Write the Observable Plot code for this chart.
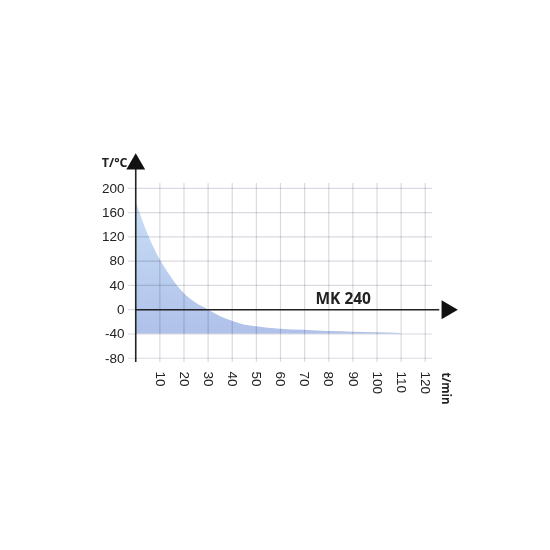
<!DOCTYPE html>
<html>
<head>
<meta charset="utf-8">
<script src="https://cdn.jsdelivr.net/npm/d3@7"></script>
<script src="https://cdn.jsdelivr.net/npm/@observablehq/plot@0.6"></script>
<style>
  html, body { margin: 0; padding: 0; background: #fff; }
  #chart { width: 550px; height: 550px; }
</style>
</head>
<body>
<div id="chart"></div>
<script>
// Data
const times = [0, 5, 10, 15, 20, 25, 30, 35, 40, 45, 50, 60, 70, 80, 90, 100, 110];
const temps = [180, 125, 83, 52, 27, 11, 0, -11, -19, -25, -28, -32, -34, -36, -37, -38, -39];
const xTicks = [10, 20, 30, 40, 50, 60, 70, 80, 90, 100, 110, 120];
const yTicks = [-80, -40, 0, 40, 80, 120, 160, 200];
const baseline = -40;
const seriesLabel = "MK 240";
const yLabel = "T/°C";
const xLabel = "t/min";

const data = times.map((t, i) => ({t, v: temps[i]}));

const font = "'Liberation Sans', Arial, sans-serif";

const plot = Plot.plot({
  width: 550,
  height: 550,
  marginLeft: 128,
  marginRight: 118,
  marginTop: 183,
  marginBottom: 188,
  style: {fontFamily: font, background: "white", overflow: "visible"},
  x: {domain: [-3, 123]},
  y: {domain: [-87, 208]},
  marks: [
    () => {
      const svg = d3.create("svg:defs");
      const g = svg.append("linearGradient").attr("id", "areaGrad").attr("x1", 0).attr("y1", 0).attr("x2", 0).attr("y2", 1);
      g.append("stop").attr("offset", "0%").attr("stop-color", "#c8dff5");
      g.append("stop").attr("offset", "100%").attr("stop-color", "#b0c1ea");
      return svg.node();
    },
    Plot.areaY(data, {x: "t", y1: baseline, y2: "v", curve: "monotone-x", fill: "url(#areaGrad)"}),
    Plot.gridX(xTicks, {y1: -87, y2: 208, stroke: "#dadae2", strokeOpacity: 1, strokeWidth: 1.2, mixBlendMode: "multiply"}),
    Plot.gridY(yTicks, {x1: -3, x2: 123, stroke: "#dadae2", strokeOpacity: 1, strokeWidth: 1.2, mixBlendMode: "multiply"}),
    Plot.axisY(yTicks, {anchor: "left", tickSize: 0, tickPadding: 4, fontSize: 13.5, fill: "#222", label: null, tickFormat: d => String(d)}),
    Plot.axisX(xTicks, {anchor: "bottom", tickSize: 0, tickPadding: 9, tickRotate: 90, fontSize: 13.5, fill: "#222", label: null, tickFormat: d => String(d)}),
    Plot.ruleX([0], {y1: -87, y2: 236, stroke: "#222", strokeWidth: 1.6}),
    Plot.ruleY([0], {x1: 0, x2: 126, stroke: "#222", strokeWidth: 1.6}),
    Plot.dot([{x: 0, y: 240}], {x: "x", y: "y", symbol: "triangle", r: 7, fill: "#111", stroke: null}),
    Plot.dot([{x: 129, y: 0}], {x: "x", y: "y", symbol: "triangle", r: 7, rotate: 90, fill: "#111", stroke: null}),
    Plot.text([seriesLabel], {x: 86, y: 17, text: d => d, fontSize: 15.5, fontWeight: "bold", fill: "#222", textAnchor: "middle", fontFamily: "'Open Sans', sans-serif"}),
    Plot.text([yLabel], {x: -3, y: 241, text: d => d, fontSize: 12.5, fontWeight: "bold", fill: "#222", textAnchor: "end", dx: -1, fontFamily: "'Open Sans', sans-serif"}),
    Plot.text([xLabel], {x: 128.5, y: -87, text: d => d, fontSize: 11.5, fontWeight: "bold", fill: "#222", textAnchor: "start", rotate: 90, dy: 10, fontFamily: "'Open Sans', sans-serif"})
  ]
});
document.getElementById("chart").appendChild(plot);
</script>
</body>
</html>
